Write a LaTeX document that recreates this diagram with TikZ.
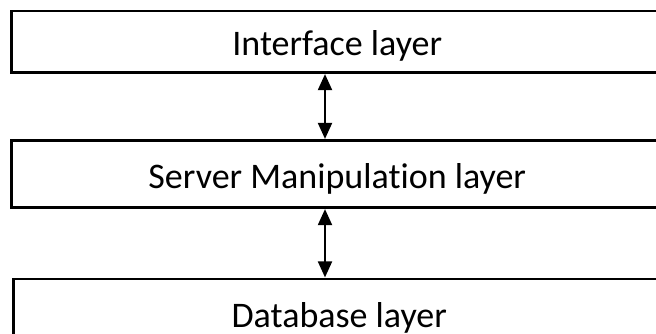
\documentclass[tikz,border=0pt]{standalone}
\usepackage{fontspec}
\setmainfont{Carlito}[Ligatures=NoCommon]
\usetikzlibrary{arrows.meta}
\begin{document}
\begin{tikzpicture}[x=1pt,y=-1pt,
  layerbox/.style={draw=black, line width=2.2pt, rectangle, inner sep=0pt,
    font=\fontsize{36}{43}\selectfont, text height=35pt, text depth=7pt},
  link/.style={line width=2pt, {Triangle[width=14pt,length=16pt]}-{Triangle[width=14pt,length=16pt]}, shorten <=0.5pt, shorten >=0.5pt}]
\useasboundingbox (0,0) rectangle (656,333);
\fill[white] (0,0) rectangle (656,333);
\begin{scope}
\clip (0,0) rectangle (656,333);
\node[layerbox, minimum width=651.5pt, minimum height=61.5pt] (iface) at (337.25,41.75) {Interface layer};
\node[layerbox, minimum width=651.5pt, minimum height=67pt] (server) at (337.25,174) {Server Manipulation layer};
\node[layerbox, minimum width=651.5pt, minimum height=68pt] (db) at (339.25,313) {Database layer};
\coordinate (ax) at (325,0);
\draw[link] (iface.south -| ax) -- (server.north -| ax);
\draw[link] (server.south -| ax) -- (db.north -| ax);
\end{scope}
\end{tikzpicture}
\end{document}
